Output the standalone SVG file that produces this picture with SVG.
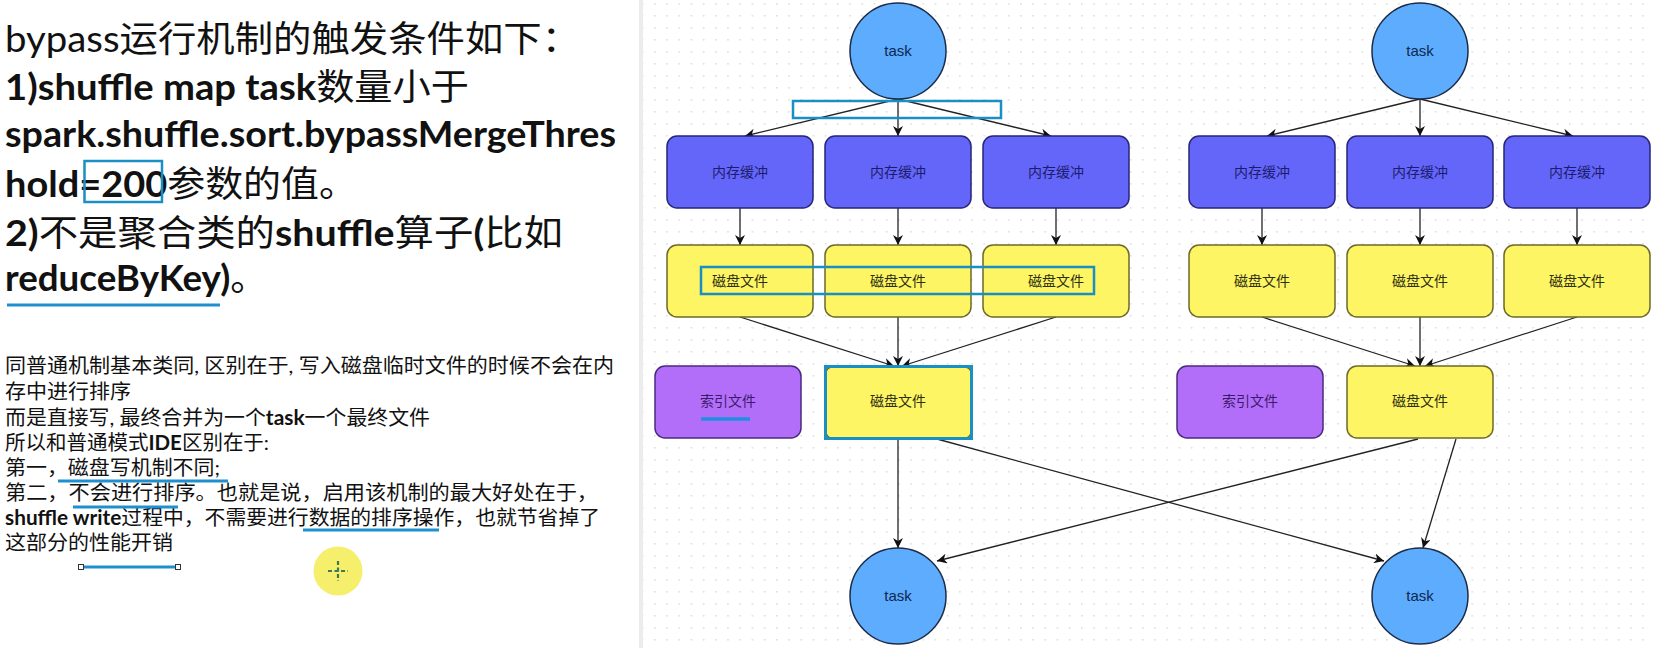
<svg xmlns="http://www.w3.org/2000/svg" width="1654" height="648" viewBox="0 0 1654 648">
<style>
.big{font-family:Lato,"Noto Sans CJK SC",sans-serif;font-size:36px;fill:#111}
.sm{font-family:Lato,"Noto Sans CJK SC",sans-serif;font-size:20px;fill:#111}
.b{font-weight:bold}
.ul{stroke:#1e8fcf;stroke-width:3;fill:none}
.hl{stroke:#1a8fc4;stroke-width:2.5;fill:none}
.task{fill:#5eacfd;stroke:#1c2c48;stroke-width:1.5}
.mem{fill:#6466f9;stroke:#26267a;stroke-width:1.5}
.disk{fill:#fdf564;stroke:#6b6a2a;stroke-width:1.5}
.idx{fill:#b26ef9;stroke:#4b2a7c;stroke-width:1.5}
.lbl{font-family:"Noto Sans CJK SC",sans-serif;font-size:14px;text-anchor:middle}
.tl{font-family:"Liberation Sans",Arial,sans-serif;font-size:15px;text-anchor:middle;fill:#0d2850}
.edge{stroke:#222;stroke-width:1.3;fill:none;marker-end:url(#arr)}
</style>
<defs>
<pattern id="dots" x="654" y="3" width="12.2" height="12" patternUnits="userSpaceOnUse">
<rect x="0" y="0" width="1.6" height="1.6" fill="#dedede"/>
</pattern>
<marker id="arr" viewBox="0 0 10 10" refX="10" refY="5" markerWidth="10" markerHeight="10" markerUnits="userSpaceOnUse" orient="auto">
<path d="M0,0 L10,5 L0,10 L3,5 z" fill="#111"/>
</marker>
</defs>
<rect x="0" y="0" width="1654" height="648" fill="#fff"/>
<rect x="643" y="0" width="1011" height="648" fill="url(#dots)"/>
<rect x="639" y="0" width="4" height="648" fill="#ececec"/>

<g id="left-text">
<text class="big" x="5" y="52" textLength="575" lengthAdjust="spacingAndGlyphs">bypass运行机制的触发条件如下：</text>
<text class="big" x="5" y="100" textLength="464" lengthAdjust="spacingAndGlyphs"><tspan class="b">1)shuffle map task</tspan>数量小于</text>
<text class="big b" x="5" y="147" textLength="611" lengthAdjust="spacingAndGlyphs">spark.shuffle.sort.bypassMergeThres</text>
<text class="big" x="5" y="197" textLength="352" lengthAdjust="spacingAndGlyphs"><tspan class="b">hold=200</tspan>参数的值。</text>
<text class="big" x="5" y="246" textLength="558" lengthAdjust="spacingAndGlyphs"><tspan class="b">2)</tspan>不是聚合类的<tspan class="b">shuffle</tspan>算子<tspan class="b">(</tspan>比如</text>
<text class="big" x="5" y="291" textLength="262" lengthAdjust="spacingAndGlyphs"><tspan class="b">reduceByKey)</tspan>。</text>
<rect class="hl" x="84.5" y="161" width="77.5" height="41"/>
<line class="ul" x1="7" y1="305" x2="220" y2="305"/>

<text class="sm" x="5" y="373" textLength="609" lengthAdjust="spacingAndGlyphs">同普通机制基本类同, 区别在于, 写入磁盘临时文件的时候不会在内</text>
<text class="sm" x="5" y="399" textLength="126" lengthAdjust="spacingAndGlyphs">存中进行排序</text>
<text class="sm" x="5" y="425" textLength="425" lengthAdjust="spacingAndGlyphs">而是直接写, 最终合并为一个<tspan class="b">task</tspan>一个最终文件</text>
<text class="sm" x="5" y="450" textLength="264" lengthAdjust="spacingAndGlyphs">所以和普通模式<tspan class="b">IDE</tspan>区别在于:</text>
<text class="sm" x="5" y="475" textLength="215" lengthAdjust="spacingAndGlyphs">第一，磁盘写机制不同;</text>
<text class="sm" x="5" y="500" textLength="593" lengthAdjust="spacingAndGlyphs">第二，不会进行排序。也就是说，启用该机制的最大好处在于，</text>
<text class="sm" x="5" y="525" textLength="595" lengthAdjust="spacingAndGlyphs"><tspan class="b">shuffle write</tspan>过程中，不需要进行数据的排序操作，也就节省掉了</text>
<text class="sm" x="5" y="550" textLength="168" lengthAdjust="spacingAndGlyphs">这部分的性能开销</text>
<line class="ul" x1="58" y1="481" x2="228" y2="481"/>
<line class="ul" x1="73" y1="507" x2="178" y2="507"/>
<line class="ul" x1="303" y1="530" x2="439" y2="530"/>
<line class="ul" x1="80" y1="567" x2="180" y2="567"/>
<rect x="78.5" y="564.5" width="5" height="5" fill="#fff" stroke="#333" stroke-width="1"/>
<rect x="175.5" y="564.5" width="5" height="5" fill="#fff" stroke="#333" stroke-width="1"/>
<circle cx="338" cy="571" r="24.5" fill="#f6ef6c"/>
<path d="M338,561 V581 M328,571 H348" stroke="#3f7a55" stroke-width="2.2" stroke-dasharray="4,2.5"/>
</g>

<g id="connectors">
<path class="edge" d="M898,99 L745,136"/>
<path class="edge" d="M898,99 L898,136"/>
<path class="edge" d="M898,99 L1051,136"/>
<path class="edge" d="M740,208 L740,245"/>
<path class="edge" d="M898,208 L898,245"/>
<path class="edge" d="M1056,208 L1056,245"/>
<path class="edge" d="M740,317 L894,366"/>
<path class="edge" d="M898,317 L898,366"/>
<path class="edge" d="M1056,317 L902,366"/>
<path class="edge" d="M898,438 L898,548"/>
<path class="edge" d="M937,439 L1384,561"/>
<path class="edge" d="M1420,99 L1267,136"/>
<path class="edge" d="M1420,99 L1420,136"/>
<path class="edge" d="M1420,99 L1573,136"/>
<path class="edge" d="M1262,208 L1262,245"/>
<path class="edge" d="M1420,208 L1420,245"/>
<path class="edge" d="M1577,208 L1577,245"/>
<path class="edge" d="M1262,317 L1415,366"/>
<path class="edge" d="M1420,317 L1420,366"/>
<path class="edge" d="M1577,317 L1425,366"/>
<path class="edge" d="M1418,439 L937,561"/>
<path class="edge" d="M1456,439 L1423,548"/>
</g>

<g id="task-top-left"><circle class="task" cx="898" cy="51" r="48"/><text class="tl" x="898" y="56">task</text></g>
<g id="mem-l1"><rect class="mem" x="667" y="136" width="146" height="72" rx="10"/><text class="lbl" x="740" y="177" fill="#1c1c6e">内存缓冲</text></g>
<g id="mem-l2"><rect class="mem" x="825" y="136" width="146" height="72" rx="10"/><text class="lbl" x="898" y="177" fill="#1c1c6e">内存缓冲</text></g>
<g id="mem-l3"><rect class="mem" x="983" y="136" width="146" height="72" rx="10"/><text class="lbl" x="1056" y="177" fill="#1c1c6e">内存缓冲</text></g>
<g id="disk-l1"><rect class="disk" x="667" y="245" width="146" height="72" rx="10"/><text class="lbl" x="740" y="286" fill="#2e2e10">磁盘文件</text></g>
<g id="disk-l2"><rect class="disk" x="825" y="245" width="146" height="72" rx="10"/><text class="lbl" x="898" y="286" fill="#2e2e10">磁盘文件</text></g>
<g id="disk-l3"><rect class="disk" x="983" y="245" width="146" height="72" rx="10"/><text class="lbl" x="1056" y="286" fill="#2e2e10">磁盘文件</text></g>
<g id="index-left"><rect class="idx" x="655" y="366" width="146" height="72" rx="10"/><text class="lbl" x="728" y="406" fill="#3c1a6a">索引文件</text><line x1="701" y1="419" x2="750" y2="419" stroke="#1e90e0" stroke-width="3.5"/></g>
<g id="merged-left"><rect class="disk" x="826" y="367" width="145" height="71" rx="6"/><rect x="825.5" y="366.5" width="146" height="72" fill="none" stroke="#1a8fc4" stroke-width="3"/><text class="lbl" x="898" y="406" fill="#2e2e10">磁盘文件</text></g>
<g id="task-bottom-left"><circle class="task" cx="898" cy="596" r="48"/><text class="tl" x="898" y="601">task</text></g>

<g id="task-top-right"><circle class="task" cx="1420" cy="51" r="48"/><text class="tl" x="1420" y="56">task</text></g>
<g id="mem-r1"><rect class="mem" x="1189" y="136" width="146" height="72" rx="10"/><text class="lbl" x="1262" y="177" fill="#1c1c6e">内存缓冲</text></g>
<g id="mem-r2"><rect class="mem" x="1347" y="136" width="146" height="72" rx="10"/><text class="lbl" x="1420" y="177" fill="#1c1c6e">内存缓冲</text></g>
<g id="mem-r3"><rect class="mem" x="1504" y="136" width="146" height="72" rx="10"/><text class="lbl" x="1577" y="177" fill="#1c1c6e">内存缓冲</text></g>
<g id="disk-r1"><rect class="disk" x="1189" y="245" width="146" height="72" rx="10"/><text class="lbl" x="1262" y="286" fill="#2e2e10">磁盘文件</text></g>
<g id="disk-r2"><rect class="disk" x="1347" y="245" width="146" height="72" rx="10"/><text class="lbl" x="1420" y="286" fill="#2e2e10">磁盘文件</text></g>
<g id="disk-r3"><rect class="disk" x="1504" y="245" width="146" height="72" rx="10"/><text class="lbl" x="1577" y="286" fill="#2e2e10">磁盘文件</text></g>
<g id="index-right"><rect class="idx" x="1177" y="366" width="146" height="72" rx="10"/><text class="lbl" x="1250" y="406" fill="#3c1a6a">索引文件</text></g>
<g id="merged-right"><rect class="disk" x="1347" y="366" width="146" height="72" rx="10"/><text class="lbl" x="1420" y="406" fill="#2e2e10">磁盘文件</text></g>
<g id="task-bottom-right"><circle class="task" cx="1420" cy="596" r="48"/><text class="tl" x="1420" y="601">task</text></g>

<g id="highlights">
<rect class="hl" x="793" y="101" width="208" height="17"/>
<rect class="hl" x="701" y="267" width="393" height="27"/>
</g>
</svg>
